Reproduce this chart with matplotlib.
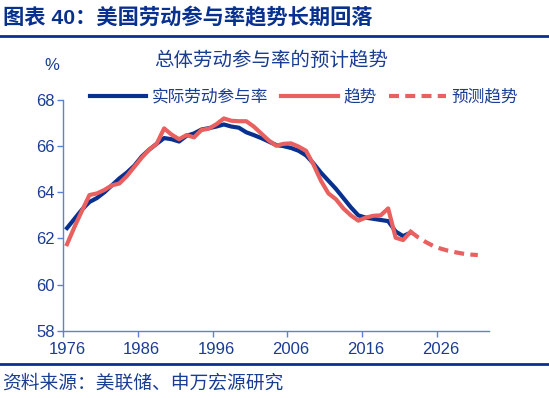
#!/usr/bin/env python3

# THIRD PARTY LIBRARY IMPORTS -------------------------------------------------

import matplotlib
matplotlib.use('Agg')
import matplotlib.pyplot as plt
from matplotlib.lines import Line2D


# DATA ------------------------------------------------------------------------

years_actual = list(range(1976, 2023))
actual_rate = [62.45, 62.85, 63.25, 63.58, 63.75, 64.0, 64.3, 64.6, 64.85,
               65.15, 65.55, 65.85, 66.1, 66.35, 66.3, 66.2, 66.45, 66.55,
               66.72, 66.78, 66.85, 66.94, 66.85, 66.8, 66.6, 66.48, 66.35,
               66.2, 66.05, 66.0, 65.92, 65.8, 65.6, 65.25, 64.85, 64.5,
               64.15, 63.75, 63.35, 63.0, 62.9, 62.85, 62.8, 62.75, 62.3,
               62.1, 62.25]

years_trend = list(range(1976, 2023))
trend_rate = [61.75, 62.5, 63.2, 63.88, 63.95, 64.1, 64.3, 64.38, 64.7,
              65.1, 65.5, 65.85, 66.1, 66.77, 66.5, 66.3, 66.48, 66.38,
              66.7, 66.76, 66.95, 67.2, 67.1, 67.08, 67.08, 66.85, 66.55,
              66.25, 66.02, 66.1, 66.12, 65.98, 65.8, 65.2, 64.5, 63.95,
              63.7, 63.3, 63.0, 62.77, 62.9, 62.98, 63.0, 63.3, 62.03,
              61.93, 62.29]

years_forecast = list(range(2022, 2032))
forecast_rate = [62.29, 62.05, 61.85, 61.68, 61.56, 61.47, 61.40, 61.34,
                 61.30, 61.28]

x_tick_years = [1976, 1986, 1996, 2006, 2016, 2026]
y_ticks = [58, 60, 62, 64, 66, 68]

legend_labels = ['实际劳动参与率', '趋势', '预测趋势']
title_text = '图表 40：美国劳动参与率趋势长期回落'
subtitle_text = '总体劳动参与率的预计趋势'
source_text = '资料来源：美联储、申万宏源研究'


# STYLE -----------------------------------------------------------------------

plt.rcParams['font.family'] = ['Liberation Sans', 'Noto Sans CJK SC',
                               'DejaVu Sans']

NAVY = '#08318f'
RED = '#e8605f'
TEXT = '#1a3d93'
SPINE = '#5a82d6'
DPI = 100


# FIGURE ----------------------------------------------------------------------

fig = plt.figure(figsize=(5.49, 3.98), dpi=DPI)
W, H = 549, 398

# axes placed from pixel measurements of the reference
left, right, top, bottom = 63.3, 489, 100, 330.7
ax = fig.add_axes([left / W, 1 - bottom / H, (right - left) / W,
                   (bottom - top) / H])

ax.plot(years_actual, actual_rate, color=NAVY, lw=3.0,
        solid_joinstyle='round', zorder=3)
ax.plot(years_trend, trend_rate, color=RED, lw=3.0,
        solid_joinstyle='round', zorder=4)
ax.plot(years_forecast, forecast_rate, color=RED, lw=3.0,
        dashes=(2.4, 1.5), zorder=4)

# category axis: ticks between categories, labels on the categories
ax.set_xlim(1975.5, 2032.5)
ax.set_ylim(58, 68)
ax.set_xticks([y - 0.5 for y in x_tick_years])
ax.set_xticklabels([])
ax.set_xticks(x_tick_years, minor=True)
ax.set_xticklabels([str(y) for y in x_tick_years], minor=True)
ax.tick_params(axis='x', which='major', length=4, width=1, color=SPINE,
               direction='out')
ax.tick_params(axis='x', which='minor', length=0, pad=8, labelsize=12,
               labelcolor=TEXT)
ax.set_yticks(y_ticks)
ax.tick_params(axis='y', length=4, width=1, color=SPINE, pad=2,
               labelsize=12, labelcolor=TEXT)

for side in ('top', 'right'):
    ax.spines[side].set_visible(False)
for side in ('left', 'bottom'):
    ax.spines[side].set_color(SPINE)
    ax.spines[side].set_linewidth(1.0)

handles = [Line2D([], [], color=NAVY, lw=3.0),
           Line2D([], [], color=RED, lw=3.0),
           Line2D([], [], color=RED, lw=3.0, dashes=(2.4, 1.5))]
leg = ax.legend(handles, legend_labels, ncol=3, frameon=False,
                loc='center', bbox_to_anchor=(0.565, 1.013),
                fontsize=12, handlelength=3.4, handletextpad=0.35,
                columnspacing=0.75, borderaxespad=0)
for t in leg.get_texts():
    t.set_color(TEXT)

# titles, unit and source
fig.text(3 / W, 1 - 18 / H, title_text, fontsize=15.3, fontweight='bold',
         color=NAVY, ha='left', va='center')
fig.add_artist(Line2D([0, 1], [1 - 36 / H, 1 - 36 / H], color=NAVY,
                      lw=2.0, transform=fig.transFigure))
fig.text(271 / W, 1 - 61 / H, subtitle_text, fontsize=14, color=TEXT,
         ha='center', va='center')
fig.text(51.7 / W, 1 - 65 / H, '%', fontsize=12, color=TEXT,
         ha='center', va='center')
fig.add_artist(Line2D([0, 1], [1 - 364 / H, 1 - 364 / H], color=NAVY,
                      lw=2.0, transform=fig.transFigure))
fig.text(2 / W, 1 - 384 / H, source_text, fontsize=13.5, color=TEXT,
         ha='left', va='center')

fig.savefig('out.png', dpi=DPI)
plt.close(fig)
